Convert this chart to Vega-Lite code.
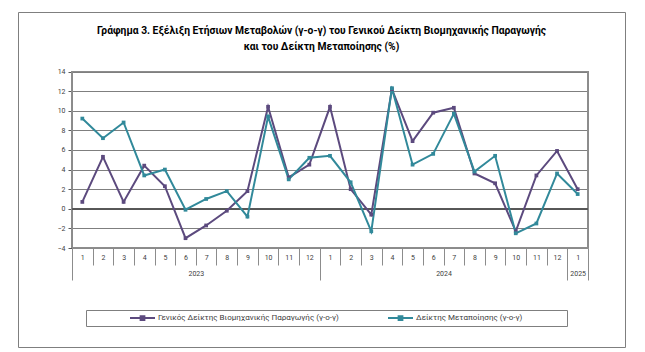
{
  "$schema": "https://vega.github.io/schema/vega-lite/v6.json",
  "width": 607,
  "height": 335,
  "autosize": {"type": "none"},
  "padding": {"left": 18, "top": 12, "right": 20, "bottom": 5},
  "background": "white",
  "config": {"view": {"stroke": "#7f7f7f", "strokeWidth": 1}, "font": "Roboto"},
  "title": {
    "text": ["Γράφημα 3. Εξέλιξη Ετήσιων Μεταβολών (γ-ο-γ) του Γενικού Δείκτη Βιομηχανικής Παραγωγής", "και του Δείκτη Μεταποίησης (%)"],
    "anchor": "middle",
    "frame": "group",
    "offset": -40,
    "fontSize": 10.3,
    "fontWeight": "bold",
    "font": "Roboto",
    "color": "#000000",
    "lineHeight": 16
  },
  "data": {"values": [
    {"period": "2023-1", "series": "Γενικός Δείκτης Βιομηχανικής Παραγωγής (γ-ο-γ)", "value": 0.7},
    {"period": "2023-2", "series": "Γενικός Δείκτης Βιομηχανικής Παραγωγής (γ-ο-γ)", "value": 5.3},
    {"period": "2023-3", "series": "Γενικός Δείκτης Βιομηχανικής Παραγωγής (γ-ο-γ)", "value": 0.7},
    {"period": "2023-4", "series": "Γενικός Δείκτης Βιομηχανικής Παραγωγής (γ-ο-γ)", "value": 4.4},
    {"period": "2023-5", "series": "Γενικός Δείκτης Βιομηχανικής Παραγωγής (γ-ο-γ)", "value": 2.3},
    {"period": "2023-6", "series": "Γενικός Δείκτης Βιομηχανικής Παραγωγής (γ-ο-γ)", "value": -3.0},
    {"period": "2023-7", "series": "Γενικός Δείκτης Βιομηχανικής Παραγωγής (γ-ο-γ)", "value": -1.7},
    {"period": "2023-8", "series": "Γενικός Δείκτης Βιομηχανικής Παραγωγής (γ-ο-γ)", "value": -0.2},
    {"period": "2023-9", "series": "Γενικός Δείκτης Βιομηχανικής Παραγωγής (γ-ο-γ)", "value": 1.8},
    {"period": "2023-10", "series": "Γενικός Δείκτης Βιομηχανικής Παραγωγής (γ-ο-γ)", "value": 10.4},
    {"period": "2023-11", "series": "Γενικός Δείκτης Βιομηχανικής Παραγωγής (γ-ο-γ)", "value": 3.2},
    {"period": "2023-12", "series": "Γενικός Δείκτης Βιομηχανικής Παραγωγής (γ-ο-γ)", "value": 4.5},
    {"period": "2024-1", "series": "Γενικός Δείκτης Βιομηχανικής Παραγωγής (γ-ο-γ)", "value": 10.4},
    {"period": "2024-2", "series": "Γενικός Δείκτης Βιομηχανικής Παραγωγής (γ-ο-γ)", "value": 2.0},
    {"period": "2024-3", "series": "Γενικός Δείκτης Βιομηχανικής Παραγωγής (γ-ο-γ)", "value": -0.6},
    {"period": "2024-4", "series": "Γενικός Δείκτης Βιομηχανικής Παραγωγής (γ-ο-γ)", "value": 12.2},
    {"period": "2024-5", "series": "Γενικός Δείκτης Βιομηχανικής Παραγωγής (γ-ο-γ)", "value": 6.9},
    {"period": "2024-6", "series": "Γενικός Δείκτης Βιομηχανικής Παραγωγής (γ-ο-γ)", "value": 9.8},
    {"period": "2024-7", "series": "Γενικός Δείκτης Βιομηχανικής Παραγωγής (γ-ο-γ)", "value": 10.3},
    {"period": "2024-8", "series": "Γενικός Δείκτης Βιομηχανικής Παραγωγής (γ-ο-γ)", "value": 3.6},
    {"period": "2024-9", "series": "Γενικός Δείκτης Βιομηχανικής Παραγωγής (γ-ο-γ)", "value": 2.6},
    {"period": "2024-10", "series": "Γενικός Δείκτης Βιομηχανικής Παραγωγής (γ-ο-γ)", "value": -2.3},
    {"period": "2024-11", "series": "Γενικός Δείκτης Βιομηχανικής Παραγωγής (γ-ο-γ)", "value": 3.4},
    {"period": "2024-12", "series": "Γενικός Δείκτης Βιομηχανικής Παραγωγής (γ-ο-γ)", "value": 5.9},
    {"period": "2025-1", "series": "Γενικός Δείκτης Βιομηχανικής Παραγωγής (γ-ο-γ)", "value": 2.0},
    {"period": "2023-1", "series": "Δείκτης Μεταποίησης (γ-ο-γ)", "value": 9.2},
    {"period": "2023-2", "series": "Δείκτης Μεταποίησης (γ-ο-γ)", "value": 7.2},
    {"period": "2023-3", "series": "Δείκτης Μεταποίησης (γ-ο-γ)", "value": 8.8},
    {"period": "2023-4", "series": "Δείκτης Μεταποίησης (γ-ο-γ)", "value": 3.4},
    {"period": "2023-5", "series": "Δείκτης Μεταποίησης (γ-ο-γ)", "value": 4.0},
    {"period": "2023-6", "series": "Δείκτης Μεταποίησης (γ-ο-γ)", "value": -0.1},
    {"period": "2023-7", "series": "Δείκτης Μεταποίησης (γ-ο-γ)", "value": 1.0},
    {"period": "2023-8", "series": "Δείκτης Μεταποίησης (γ-ο-γ)", "value": 1.8},
    {"period": "2023-9", "series": "Δείκτης Μεταποίησης (γ-ο-γ)", "value": -0.8},
    {"period": "2023-10", "series": "Δείκτης Μεταποίησης (γ-ο-γ)", "value": 9.4},
    {"period": "2023-11", "series": "Δείκτης Μεταποίησης (γ-ο-γ)", "value": 3.0},
    {"period": "2023-12", "series": "Δείκτης Μεταποίησης (γ-ο-γ)", "value": 5.2},
    {"period": "2024-1", "series": "Δείκτης Μεταποίησης (γ-ο-γ)", "value": 5.4},
    {"period": "2024-2", "series": "Δείκτης Μεταποίησης (γ-ο-γ)", "value": 2.7},
    {"period": "2024-3", "series": "Δείκτης Μεταποίησης (γ-ο-γ)", "value": -2.3},
    {"period": "2024-4", "series": "Δείκτης Μεταποίησης (γ-ο-γ)", "value": 12.3},
    {"period": "2024-5", "series": "Δείκτης Μεταποίησης (γ-ο-γ)", "value": 4.5},
    {"period": "2024-6", "series": "Δείκτης Μεταποίησης (γ-ο-γ)", "value": 5.6},
    {"period": "2024-7", "series": "Δείκτης Μεταποίησης (γ-ο-γ)", "value": 9.7},
    {"period": "2024-8", "series": "Δείκτης Μεταποίησης (γ-ο-γ)", "value": 3.8},
    {"period": "2024-9", "series": "Δείκτης Μεταποίησης (γ-ο-γ)", "value": 5.4},
    {"period": "2024-10", "series": "Δείκτης Μεταποίησης (γ-ο-γ)", "value": -2.5},
    {"period": "2024-11", "series": "Δείκτης Μεταποίησης (γ-ο-γ)", "value": -1.5},
    {"period": "2024-12", "series": "Δείκτης Μεταποίησης (γ-ο-γ)", "value": 3.6},
    {"period": "2025-1", "series": "Δείκτης Μεταποίησης (γ-ο-γ)", "value": 1.5}
  ]},
  "layer": [
    {
      "mark": {"type": "rect", "fill": null, "stroke": "#8c8c8c", "strokeWidth": 1},
      "encoding": {
        "x": {"datum": 0, "type": "quantitative",
          "scale": {"domain": [0, 25], "range": [54, 570], "nice": false, "zero": false},
          "axis": {"orient": "bottom", "offset": -99, "values": [0, 12, 24, 25], "tickSize": 32, "tickColor": "#8c8c8c", "labels": false, "domain": false, "grid": false, "title": null}},
        "x2": {"datum": 25},
        "y": {"datum": -4, "type": "quantitative",
          "scale": {"domain": [-4, 14], "range": [236, 59.5], "nice": false, "zero": false},
          "axis": {"orient": "left", "offset": -54, "values": [-4, -2, 0, 2, 4, 6, 8, 10, 12, 14], "title": null, "grid": true, "gridColor": "#7f7f7f", "gridWidth": 1, "domainColor": "#595959", "tickColor": "#595959", "tickSize": 4, "labelFontSize": 7, "labelColor": "#404040", "labelPadding": 3, "labelFont": "Roboto"}},
        "y2": {"datum": 14}
      }
    },
    {
      "mark": {"type": "rule", "color": "#595959", "strokeWidth": 1},
      "encoding": {
        "x": {"datum": 0, "type": "quantitative",
          "scale": {"domain": [0, 25], "range": [54, 570], "nice": false, "zero": false},
          "axis": {"orient": "bottom", "offset": -99, "values": [6, 18, 24.5], "ticks": false, "domain": false, "grid": false, "title": null, "labelPadding": 21, "labelFontSize": 7, "labelColor": "#404040", "labelFont": "Roboto", "labelExpr": "datum.value == 6 ? '2023' : datum.value == 18 ? '2024' : '2025'"}},
        "x2": {"datum": 25},
        "y": {"datum": 0, "type": "quantitative",
          "axis": {"orient": "left", "offset": -54, "values": [-4, -2, 0, 2, 4, 6, 8, 10, 12, 14], "title": null, "grid": true, "gridColor": "#7f7f7f", "gridWidth": 1, "domainColor": "#595959", "tickColor": "#595959", "tickSize": 4, "labelFontSize": 7, "labelColor": "#404040", "labelPadding": 3, "labelFont": "Roboto"}}
      }
    },
    {
      "mark": {"type": "line", "strokeWidth": 2, "point": {"shape": "square", "size": 14, "filled": true}},
      "encoding": {
        "x": {"field": "period", "type": "ordinal", "sort": null, "bandPosition": 0.5,
          "scale": {"type": "band", "range": [54, 570], "paddingInner": 0, "paddingOuter": 0},
          "axis": {"orient": "bottom", "offset": -99, "title": null, "tickBand": "extent", "tickSize": 17, "tickColor": "#8c8c8c", "labelPadding": -12, "labelAngle": 0, "labelFontSize": 7, "labelColor": "#404040", "labelFont": "Roboto", "domain": false, "grid": false, "labelExpr": "split(datum.value, '-')[1]"}},
        "y": {"field": "value", "type": "quantitative",
          "axis": {"orient": "left", "offset": -54, "values": [-4, -2, 0, 2, 4, 6, 8, 10, 12, 14], "title": null, "grid": true, "gridColor": "#7f7f7f", "gridWidth": 1, "domainColor": "#595959", "tickColor": "#595959", "tickSize": 4, "labelFontSize": 7, "labelColor": "#404040", "labelPadding": 3, "labelFont": "Roboto"}},
        "color": {"field": "series", "type": "nominal",
          "scale": {"domain": ["Γενικός Δείκτης Βιομηχανικής Παραγωγής (γ-ο-γ)", "Δείκτης Μεταποίησης (γ-ο-γ)"], "range": ["#5C4A7E", "#31899A"]},
          "legend": {"orient": "none", "legendX": 68, "legendY": 298, "direction": "horizontal", "title": "\u00a0", "titleOrient": "right", "titlePadding": 42, "titleFontSize": 8, "strokeColor": "#7f7f7f", "padding": 3, "clipHeight": 10, "labelFontSize": 8, "labelColor": "#404040", "labelFont": "Roboto", "symbolType": "M-1,0H1M-0.15,-0.15H0.15V0.15H-0.15Z", "symbolSize": 625, "symbolStrokeWidth": 2, "symbolOffset": 40, "labelOffset": 2, "columnPadding": 8, "labelLimit": 400}}
      }
    }
  ],
  "resolve": {"scale": {"x": "independent"}, "axis": {"x": "independent"}}
}
